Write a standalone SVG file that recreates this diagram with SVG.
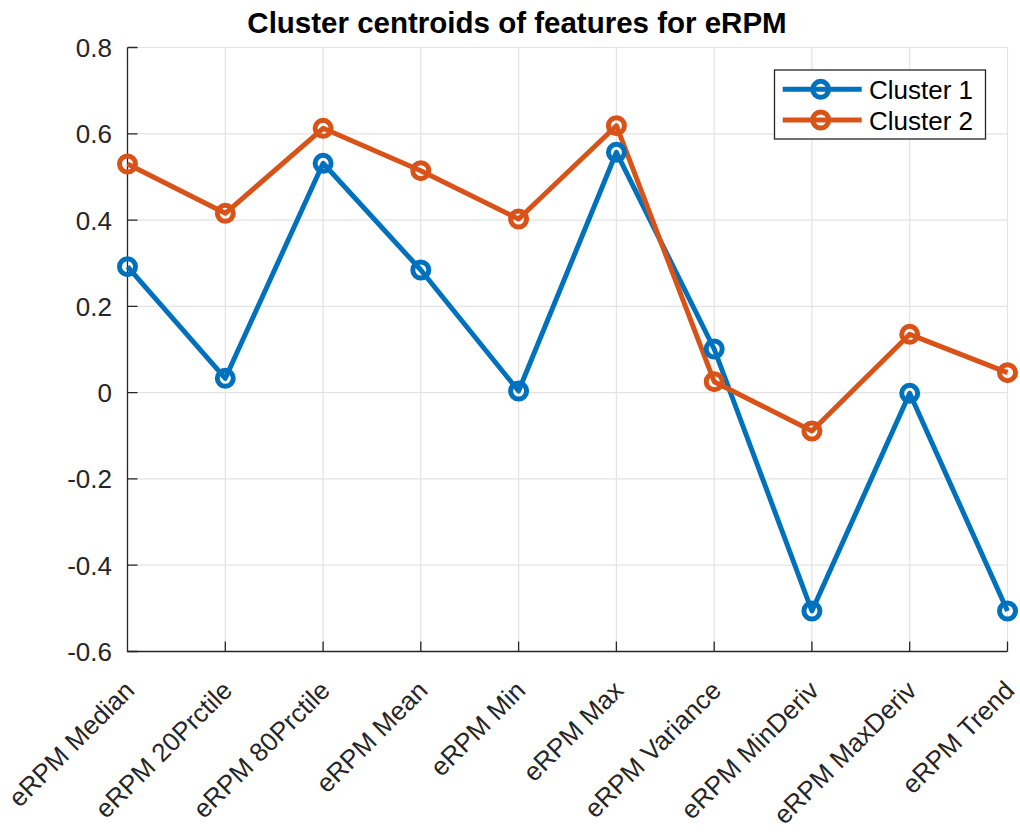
<svg xmlns="http://www.w3.org/2000/svg" width="1020" height="832" viewBox="0 0 1020 832">
<style>
text{font-family:"Liberation Sans",Arial,sans-serif;fill:#262626}
.grid line{stroke:#e3e3e3;stroke-width:1.2}
.axis{stroke:#262626;stroke-width:1.3;fill:none}
.yt{font-size:26px;text-anchor:end}
.xt{font-size:26px;text-anchor:end}
.c1{stroke:#0072BD;stroke-width:5;fill:none;stroke-linejoin:round}
.c2{stroke:#D95319;stroke-width:5;fill:none;stroke-linejoin:round}
.leg{font-size:26px;fill:#000}
</style>
<rect width="1020" height="832" fill="#fff"/>
<g class="grid">
<line x1="225.3" y1="47.5" x2="225.3" y2="651.5"/>
<line x1="323.1" y1="47.5" x2="323.1" y2="651.5"/>
<line x1="420.8" y1="47.5" x2="420.8" y2="651.5"/>
<line x1="518.6" y1="47.5" x2="518.6" y2="651.5"/>
<line x1="616.4" y1="47.5" x2="616.4" y2="651.5"/>
<line x1="714.2" y1="47.5" x2="714.2" y2="651.5"/>
<line x1="811.9" y1="47.5" x2="811.9" y2="651.5"/>
<line x1="909.7" y1="47.5" x2="909.7" y2="651.5"/>
<line x1="1007.5" y1="47.5" x2="1007.5" y2="651.5"/>
<line x1="127.5" y1="47.5" x2="1007.5" y2="47.5"/>
<line x1="127.5" y1="133.8" x2="1007.5" y2="133.8"/>
<line x1="127.5" y1="220.1" x2="1007.5" y2="220.1"/>
<line x1="127.5" y1="306.4" x2="1007.5" y2="306.4"/>
<line x1="127.5" y1="392.6" x2="1007.5" y2="392.6"/>
<line x1="127.5" y1="478.9" x2="1007.5" y2="478.9"/>
<line x1="127.5" y1="565.2" x2="1007.5" y2="565.2"/>
</g>
<g id="axes">
<path class="axis" d="M127.5,47.5 V651.5 H1007.5"/>
<path class="axis" d="M127.5,47.5h10M127.5,133.8h10M127.5,220.1h10M127.5,306.4h10M127.5,392.6h10M127.5,478.9h10M127.5,565.2h10M127.5,651.5h10"/>
<path class="axis" d="M225.3,651.5v-10M323.1,651.5v-10M420.8,651.5v-10M518.6,651.5v-10M616.4,651.5v-10M714.2,651.5v-10M811.9,651.5v-10M909.7,651.5v-10M1007.5,651.5v-10"/>
<g class="yt">
<text x="112" y="57">0.8</text>
<text x="112" y="143.3">0.6</text>
<text x="112" y="229.6">0.4</text>
<text x="112" y="315.9">0.2</text>
<text x="112" y="402.1">0</text>
<text x="112" y="488.4">-0.2</text>
<text x="112" y="574.7">-0.4</text>
<text x="112" y="661">-0.6</text>
</g>
<g class="xt">
<text transform="translate(136,692) rotate(-45)">eRPM Median</text>
<text transform="translate(233.8,692) rotate(-45)">eRPM 20Prctile</text>
<text transform="translate(331.6,692) rotate(-45)">eRPM 80Prctile</text>
<text transform="translate(429.3,692) rotate(-45)">eRPM Mean</text>
<text transform="translate(527.1,692) rotate(-45)">eRPM Min</text>
<text transform="translate(624.9,692) rotate(-45)">eRPM Max</text>
<text transform="translate(722.7,692) rotate(-45)">eRPM Variance</text>
<text transform="translate(820.4,692) rotate(-45)">eRPM MinDeriv</text>
<text transform="translate(918.2,692) rotate(-45)">eRPM MaxDeriv</text>
<text transform="translate(1016,692) rotate(-45)">eRPM Trend</text>
</g>
</g>
<text id="title" x="517" y="33" text-anchor="middle" style="font-size:29.5px;font-weight:bold;fill:#000">Cluster centroids of features for eRPM</text>
<g id="connectors">
<polyline id="cluster1-line" class="c1" points="127.5,266.7 225.3,378.3 323.1,163.3 420.8,270 518.6,391 616.4,152.3 714.2,349 811.9,611 909.7,393.3 1007.5,611"/>
<polyline id="cluster2-line" class="c2" points="127.5,164 225.3,213.3 323.1,128.3 420.8,170.7 518.6,219 616.4,125.7 714.2,381.7 811.9,431 909.7,334.3 1007.5,372.7"/>
</g>
<g id="cluster1-markers" class="c1">
<circle cx="127.5" cy="266.7" r="8"/><circle cx="225.3" cy="378.3" r="8"/><circle cx="323.1" cy="163.3" r="8"/><circle cx="420.8" cy="270" r="8"/><circle cx="518.6" cy="391" r="8"/><circle cx="616.4" cy="152.3" r="8"/><circle cx="714.2" cy="349" r="8"/><circle cx="811.9" cy="611" r="8"/><circle cx="909.7" cy="393.3" r="8"/><circle cx="1007.5" cy="611" r="8"/>
</g>
<g id="cluster2-markers" class="c2">
<circle cx="127.5" cy="164" r="8"/><circle cx="225.3" cy="213.3" r="8"/><circle cx="323.1" cy="128.3" r="8"/><circle cx="420.8" cy="170.7" r="8"/><circle cx="518.6" cy="219" r="8"/><circle cx="616.4" cy="125.7" r="8"/><circle cx="714.2" cy="381.7" r="8"/><circle cx="811.9" cy="431" r="8"/><circle cx="909.7" cy="334.3" r="8"/><circle cx="1007.5" cy="372.7" r="8"/>
</g>
<g id="legend">
<rect x="774.5" y="70" width="211" height="69" fill="#fff" stroke="#262626" stroke-width="1.3"/>
<line class="c1" x1="782.7" y1="89.3" x2="861.7" y2="89.3"/>
<circle class="c1" cx="820.7" cy="89.3" r="8"/>
<text class="leg" x="869" y="98.8">Cluster 1</text>
<line class="c2" x1="782.7" y1="120" x2="861.7" y2="120"/>
<circle class="c2" cx="820.7" cy="120" r="8"/>
<text class="leg" x="869" y="129.5">Cluster 2</text>
</g>
</svg>
